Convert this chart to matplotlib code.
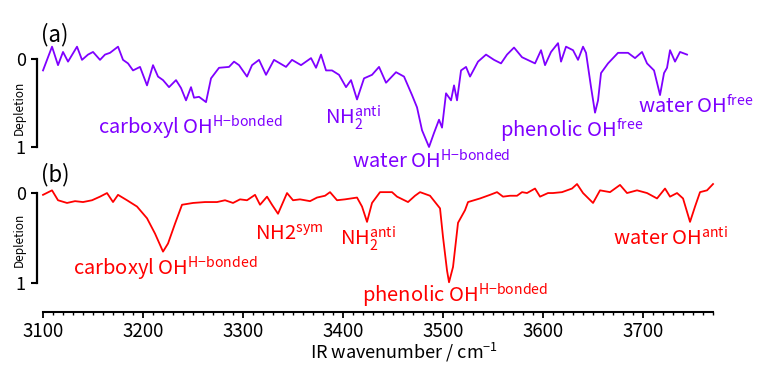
import matplotlib
matplotlib.use('Agg')
import matplotlib.pyplot as plt
from matplotlib.ticker import MultipleLocator

plt.rcParams['font.family'] = ['Noto Sans CJK JP', 'DejaVu Sans']
plt.rcParams['mathtext.fontset'] = 'custom'
plt.rcParams['mathtext.rm'] = 'Noto Sans CJK JP'
plt.rcParams['mathtext.it'] = 'Noto Sans CJK JP'

# (a) spectrum, wavenumber (cm-1) vs depletion
wn_a = [3100, 3109, 3115, 3120, 3125, 3134, 3139, 3145, 3150, 3157, 3162, 3167, 3175, 3180,
        3185, 3190, 3197, 3204, 3210, 3215, 3220, 3226, 3233, 3238, 3243, 3248, 3251, 3256,
        3263, 3268, 3276, 3286, 3291, 3296, 3304, 3309, 3316, 3323, 3331, 3343, 3349, 3358,
        3368, 3373, 3378, 3383, 3389, 3396, 3403, 3408, 3414, 3421, 3429, 3436, 3443, 3453,
        3461, 3469, 3474, 3479, 3486, 3491, 3496, 3499, 3503, 3508, 3511, 3514, 3518, 3523,
        3527, 3535, 3543, 3551, 3558, 3564, 3571, 3579, 3592, 3598, 3602, 3608, 3615, 3618,
        3623, 3630, 3635, 3640, 3643, 3648, 3652, 3655, 3658, 3665, 3675, 3685, 3692, 3699,
        3704, 3711, 3717, 3721, 3724, 3727, 3732, 3737, 3744]
dep_a = [0.13, -0.14, 0.07, -0.08, 0.03, -0.14, 0.01, -0.05, -0.08, 0.01, -0.05, -0.07, -0.14, 0.01,
         0.05, 0.13, 0.09, 0.30, 0.07, 0.20, 0.24, 0.32, 0.24, 0.33, 0.47, 0.32, 0.44, 0.43,
         0.49, 0.22, 0.10, 0.09, 0.03, 0.07, 0.20, 0.07, 0.01, 0.18, 0.01, 0.09, 0.01, 0.07,
         -0.01, 0.10, -0.05, 0.13, 0.13, 0.18, 0.32, 0.24, 0.46, 0.22, 0.18, 0.09, 0.27, 0.15,
         0.20, 0.41, 0.55, 0.81, 1.00, 0.84, 0.69, 0.78, 0.39, 0.47, 0.30, 0.47, 0.13, 0.09,
         0.20, 0.03, -0.05, 0.01, 0.05, -0.05, -0.13, -0.02, 0.05, -0.10, 0.07, -0.08, -0.18, 0.03,
         -0.14, -0.10, 0.01, -0.14, -0.07, 0.32, 0.61, 0.47, 0.16, 0.05, -0.07, -0.07, -0.01, -0.08,
         0.05, 0.13, 0.41, 0.16, 0.10, -0.10, 0.03, -0.08, -0.05]

# (b) spectrum
wn_b = [3100, 3109, 3115, 3124, 3132, 3140, 3149, 3157, 3164, 3170, 3175, 3184, 3194, 3204,
        3212, 3220, 3225, 3232, 3239, 3250, 3262, 3274, 3282, 3290, 3297, 3304, 3312, 3317,
        3324, 3329, 3335, 3344, 3350, 3357, 3367, 3374, 3382, 3387, 3394, 3402, 3414, 3419,
        3424, 3429, 3437, 3449, 3454, 3465, 3472, 3477, 3487, 3492, 3497, 3500, 3504, 3506,
        3510, 3515, 3522, 3525, 3537, 3547, 3554, 3560, 3567, 3574, 3579, 3584, 3592, 3597,
        3605, 3610, 3619, 3629, 3634, 3640, 3650, 3657, 3667, 3677, 3684, 3694, 3704, 3714,
        3722, 3727, 3734, 3740, 3747, 3752, 3757, 3764, 3770]
dep_b = [0.02, -0.03, 0.08, 0.11, 0.09, 0.10, 0.08, 0.04, 0.00, 0.10, 0.02, 0.08, 0.15, 0.28,
         0.45, 0.65, 0.56, 0.34, 0.13, 0.11, 0.10, 0.10, 0.08, 0.11, 0.07, 0.08, 0.02, 0.13,
         0.04, 0.13, 0.23, 0.00, 0.08, 0.07, 0.09, 0.05, 0.03, -0.01, 0.08, 0.07, 0.05, 0.15,
         0.32, 0.11, -0.01, -0.01, 0.04, 0.10, 0.03, -0.01, 0.03, 0.10, 0.17, 0.49, 0.86, 0.99,
         0.82, 0.33, 0.19, 0.10, 0.06, 0.02, -0.01, 0.04, 0.03, 0.03, -0.01, 0.00, -0.05, 0.04,
         0.00, 0.00, -0.01, -0.05, -0.10, 0.00, 0.11, -0.03, -0.01, -0.09, 0.00, -0.03, 0.00, 0.06,
         -0.05, 0.04, 0.00, 0.06, 0.32, 0.15, -0.01, -0.03, -0.10]

# band labels: (text, wavenumber, depletion)
labels_a = [(r'carboxyl OH$^{\text{H−bonded}}$', 3155, 0.85),
            (r'NH$_2^{\text{anti}}$', 3382, 0.75),
            (r'water OH$^{\text{H−bonded}}$', 3409, 1.24),
            (r'phenolic OH$^{\text{free}}$', 3557, 0.89),
            (r'water OH$^{\text{free}}$', 3695, 0.61)]
labels_b = [(r'carboxyl OH$^{\text{H−bonded}}$', 3130, 0.91),
            (r'NH2$^{\text{sym}}$', 3312, 0.52),
            (r'NH$_2^{\text{anti}}$', 3397, 0.58),
            (r'phenolic OH$^{\text{H−bonded}}$', 3419, 1.21),
            (r'water OH$^{\text{anti}}$', 3670, 0.58)]

col_a = '#7F00FF'
col_b = '#FF0000'

fig = plt.figure(figsize=(7.6, 3.65), dpi=100)
ax1 = fig.add_axes([0.0566, 0.5973, 0.8816, 0.2893])
ax2 = fig.add_axes([0.0566, 0.1452, 0.8816, 0.3753])

ax1.plot(wn_a, dep_a, color=col_a, lw=1.3, clip_on=False)
ax2.plot(wn_b, dep_b, color=col_b, lw=1.3, clip_on=False)

ax1.set_ylim(1.0, -0.2)
ax2.set_ylim(1.32, -0.2)

for ax in (ax1, ax2):
    ax.set_xlim(3100, 3770)
    ax.set_facecolor('none')
    ax.spines['top'].set_visible(False)
    ax.spines['right'].set_visible(False)
    ax.spines['left'].set_position(('outward', 4))
    ax.spines['left'].set_bounds(0, 1)
    ax.spines['left'].set_linewidth(1.6)
    ax.spines['left'].set_color('black')
    ax.set_yticks([0, 1])
    ax.tick_params(axis='y', length=4.5, width=1.5, labelsize=13, pad=4)

# y labels
fig.text(19 / 760, 1 - 108 / 365, 'Depletion', fontsize=8.5, rotation=90, ha='center', va='center')
fig.text(19 / 760, 1 - 240 / 365, 'Depletion', fontsize=8.5, rotation=90, ha='center', va='center')

ax1.spines['bottom'].set_visible(False)
ax1.set_xticks([])

ax2.spines['bottom'].set_linewidth(1.5)
ax2.set_xticks([3100, 3200, 3300, 3400, 3500, 3600, 3700])
ax2.xaxis.set_minor_locator(MultipleLocator(10))
ax2.tick_params(axis='x', which='major', length=4, width=1.3, labelsize=13.5, pad=2.5)
ax2.tick_params(axis='x', which='minor', length=2.5, width=1.0)
fig.text(404 / 760, 1 / 365, 'IR wavenumber / cm$^{-1}$', fontsize=13, ha='center', va='bottom')

for txt, x, y in labels_a:
    ax1.text(x, y, txt, color=col_a, fontsize=14.5, ha='left', va='baseline', clip_on=False)
for txt, x, y in labels_b:
    ax2.text(x, y, txt, color=col_b, fontsize=14.5, ha='left', va='baseline', clip_on=False)

ax1.text(3098, -0.28, '(a)', fontsize=16, ha='left', va='center')
ax2.text(3098, -0.21, '(b)', fontsize=16, ha='left', va='center')

fig.savefig('out.png', dpi=100)
